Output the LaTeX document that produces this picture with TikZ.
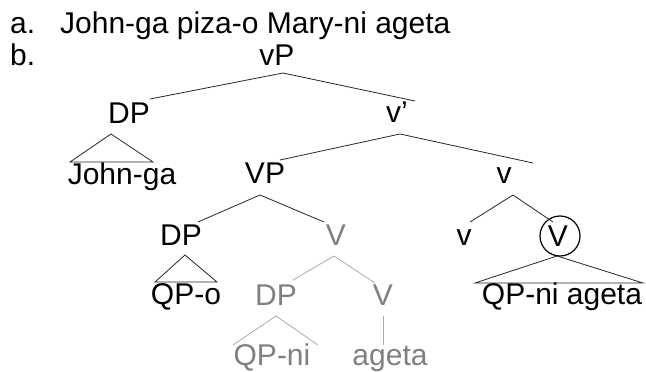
\documentclass[tikz,border=0pt]{standalone}
\usepackage{fontspec}
\setmainfont{Liberation Sans}
\definecolor{graytext}{RGB}{128,128,128}
\definecolor{grayline}{RGB}{170,170,170}
\begin{document}
\begin{tikzpicture}[x=1pt,y=-1pt,
  lab/.style={font=\fontsize{30}{36}\selectfont, inner sep=0pt, anchor=base},
  glab/.style={lab, text=graytext},
  branch/.style={draw=black!85, line width=0.8pt},
  gbranch/.style={draw=grayline, line width=0.8pt}]
\useasboundingbox (0,0) rectangle (646,372);
% text lines
\node[lab, anchor=base west] (la) at (10,33) {a.};
\node[lab, anchor=base west] (sent) at (60,33) {John-ga piza-o Mary-ni ageta};
\node[lab, anchor=base west] (lb) at (10,65) {b.};
% tree labels
\node[lab] (vP) at (277,65) {vP};
\node[lab] (dp1) at (129,123) {DP};
\node[lab] (johnga) at (122,184) {John-ga};
\node[lab] (vbar) at (397,122) {v’};
\node[lab] (VP) at (265,183) {VP};
\node[lab] (v1) at (504,183) {v};
\node[lab] (dp2) at (181,245) {DP};
\node[glab] (gV1) at (336,245) {V};
\node[lab] (v2) at (464,245) {v};
\node[lab] (Vc) at (558,246) {V};
\node[draw, circle, line width=1.2pt, minimum size=40pt, inner sep=0pt] (circ) at (560,236) {};
\node[lab] (qpo) at (186,304) {QP-o};
\node[lab] (qpniageta) at (562,304) {QP-ni ageta};
\node[glab] (gdp) at (276,305) {DP};
\node[glab] (gV2) at (383,305) {V};
\node[glab] (gqpni) at (272,365) {QP-ni};
\node[glab] (gageta) at (390,365) {ageta};
% connector end points
\coordinate (a1) at (283,73);  \coordinate (a1l) at (150,99);  \coordinate (a1r) at (415,101);
\coordinate (t1) at (111,134); \coordinate (t1l) at (70,162);  \coordinate (t1r) at (153,162);
\coordinate (a2) at (400,134); \coordinate (a2l) at (280,160); \coordinate (a2r) at (533,163);
\coordinate (a3) at (260,195); \coordinate (a3l) at (198,222); \coordinate (a3r) at (324,222);
\coordinate (t2) at (185,255); \coordinate (t2l) at (155,282); \coordinate (t2r) at (217,282);
\coordinate (a4) at (513,195); \coordinate (a4l) at (470,222); \coordinate (a4r) at (553,222);
\coordinate (t3) at (557,256); \coordinate (t3l) at (475,283); \coordinate (t3r) at (643,283);
\coordinate (g1) at (334,256); \coordinate (g1l) at (293,280); \coordinate (g1r) at (375,283);
\coordinate (g2) at (276,316); \coordinate (g2l) at (233,345); \coordinate (g2r) at (318,345);
\coordinate (g3) at (383,316); \coordinate (g3b) at (383,345);
% black branches
\draw[branch] (a1l) -- (a1) -- (a1r);
\draw[branch] (t1) -- (t1l) -- (t1r) -- cycle;
\draw[branch] (a2l) -- (a2) -- (a2r);
\draw[branch] (a3l) -- (a3) -- (a3r);
\draw[branch] (t2) -- (t2l) -- (t2r) -- cycle;
\draw[branch] (a4l) -- (a4) -- (a4r);
\draw[branch] (t3) -- (t3l) -- (t3r) -- cycle;
% gray branches
\draw[gbranch] (g1l) -- (g1) -- (g1r);
\draw[gbranch] (g2l) -- (g2) -- (g2r);
\draw[gbranch] (g3) -- (g3b);
\end{tikzpicture}
\end{document}
